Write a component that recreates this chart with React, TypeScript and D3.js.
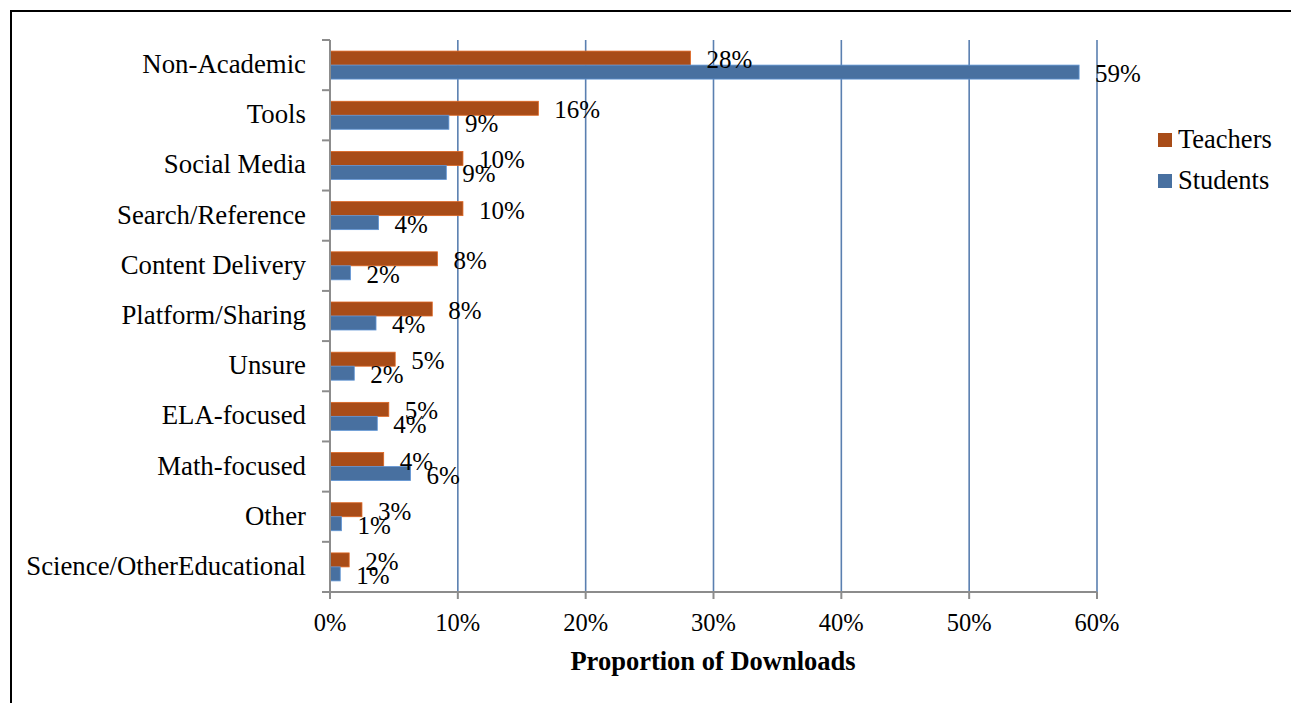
import React from "react";
import * as d3 from "d3";

const categories = [
  "Non-Academic",
  "Tools",
  "Social Media",
  "Search/Reference",
  "Content Delivery",
  "Platform/Sharing",
  "Unsure",
  "ELA-focused",
  "Math-focused",
  "Other",
  "Science/OtherEducational",
];
const teachers = [28.2, 16.3, 10.4, 10.4, 8.4, 8.0, 5.1, 4.6, 4.2, 2.5, 1.5];
const students = [58.6, 9.3, 9.1, 3.8, 1.6, 3.6, 1.9, 3.7, 6.3, 0.9, 0.8];
const teacherLabels = ["28%", "16%", "10%", "10%", "8%", "8%", "5%", "5%", "4%", "3%", "2%"];
const studentLabels = ["59%", "9%", "9%", "4%", "2%", "4%", "2%", "4%", "6%", "1%", "1%"];
const xTicks = [0, 10, 20, 30, 40, 50, 60];
const seriesNames = ["Teachers", "Students"];

const TEACH = "#A84C18";
const STUD = "#4870A0";
const GRID = "#5A7FB0";
const AXIS = "#8C8C8C";
const FONT = "'Liberation Serif', 'Times New Roman', serif";

export default function App() {
  const W = 1291;
  const H = 703;
  const x = d3.scaleLinear().domain([0, 60]).range([330, 1097]);
  const y = d3.scaleBand<string>().domain(categories).range([40, 592]);
  const barH = 14;
  const series = [
    { name: seriesNames[0], values: teachers, labels: teacherLabels, color: TEACH, off: -barH },
    { name: seriesNames[1], values: students, labels: studentLabels, color: STUD, off: 0 },
  ];
  const bandBounds = d3.range(categories.length + 1).map((i) => 40 + i * y.step());

  return (
    <svg width={W} height={H} style={{ position: "absolute", left: 0, top: 0 }} fontFamily={FONT}>
      <rect x={0} y={0} width={W} height={H} fill="#fff" />
      <rect x={11} y={11} width={1290} height={720} fill="none" stroke="#000" strokeWidth={2} />
      {/* gridlines */}
      {xTicks.slice(1).map((t) => (
        <line key={t} x1={x(t)} x2={x(t)} y1={40} y2={592} stroke={GRID} strokeWidth={1.6} />
      ))}
      {/* bars */}
      {series.map((s) =>
        categories.map((c, i) => {
          const cy = (y(c) as number) + y.bandwidth() / 2;
          return (
            <rect
              key={s.name + c}
              x={x(0)}
              y={cy + s.off}
              width={x(s.values[i]) - x(0)}
              height={barH}
              fill={s.color}
              stroke={d3.color(s.color)!.brighter(0.8).formatHex()}
              strokeWidth={0.8}
            />
          );
        })
      )}
      {/* axes */}
      <line x1={330} x2={330} y1={40} y2={592} stroke={AXIS} strokeWidth={2} />
      {bandBounds.map((b, i) => (
        <line key={i} x1={322} x2={330} y1={b} y2={b} stroke={AXIS} strokeWidth={2} />
      ))}
      <line x1={322} x2={x(60)} y1={592} y2={592} stroke={AXIS} strokeWidth={2} />
      {xTicks.map((t) => (
        <g key={t}>
          <line x1={x(t)} x2={x(t)} y1={592} y2={599} stroke={AXIS} strokeWidth={2} />
          <text x={x(t)} y={631} textAnchor="middle" fontSize={24.5} fill="#000">
            {t + "%"}
          </text>
        </g>
      ))}
      {/* category labels */}
      {categories.map((c) => (
        <text
          key={c}
          x={306}
          y={(y(c) as number) + y.bandwidth() / 2 + 8}
          textAnchor="end"
          fontSize={26.8}
          fill="#000"
        >
          {c}
        </text>
      ))}
      {/* data labels */}
      {series.map((s) =>
        categories.map((c, i) => {
          const cy = (y(c) as number) + y.bandwidth() / 2 + s.off + barH / 2;
          return (
            <text key={"l" + s.name + c} x={x(s.values[i]) + 16} y={cy + 10} fontSize={25} fill="#000">
              {s.labels[i]}
            </text>
          );
        })
      )}
      {/* axis title */}
      <text x={713} y={670} textAnchor="middle" fontSize={26.5} fontWeight="bold" fill="#000">
        Proportion of Downloads
      </text>
      {/* legend */}
      {series.map((s, i) => (
        <g key={"lg" + s.name}>
          <rect x={1158} y={133 + i * 41} width={14} height={14} fill={s.color} />
          <text x={1178} y={148 + i * 41} fontSize={26.5} fill="#000">
            {s.name}
          </text>
        </g>
      ))}
    </svg>
  );
}
